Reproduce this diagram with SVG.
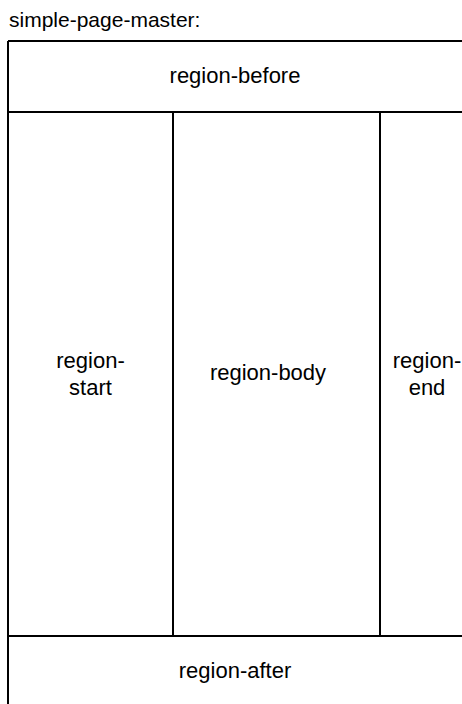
<svg xmlns="http://www.w3.org/2000/svg" width="462" height="704" viewBox="0 0 462 704">
<style>
.ln{stroke:#000;stroke-width:2;fill:none}
text{font-family:"Liberation Sans",Arial,sans-serif;font-size:22px;fill:#000;text-anchor:middle}
</style>
<rect width="462" height="704" fill="#fff"/>
<text x="9" y="27" style="text-anchor:start;font-size:21px">simple-page-master:</text>
<g id="connectors">
<path class="ln" d="M8,41 H462 M8,41 V704 M8,112 H462 M173,112 V636 M380,112 V636 M8,636 H462"/>
</g>
<g id="region-before"><text x="235" y="83">region-before</text></g>
<g id="region-start"><text x="90.5" y="368">region-</text><text x="90.5" y="395">start</text></g>
<g id="region-body"><text x="268" y="380">region-body</text></g>
<g id="region-end"><text x="427" y="368">region-</text><text x="427" y="395">end</text></g>
<g id="region-after"><text x="235" y="678">region-after</text></g>
</svg>
